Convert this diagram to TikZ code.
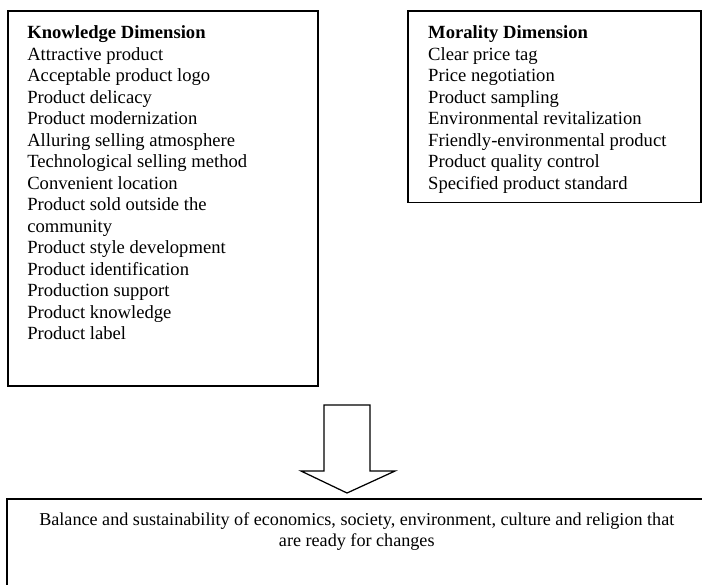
\documentclass[tikz,border=0pt]{standalone}
\usepackage{fontspec}
\setmainfont{Liberation Serif}
\usetikzlibrary{positioning}

\tikzset{
  frame/.style={draw, line width=1pt, inner sep=0pt, anchor=north west},
  listtext/.style={align=left, inner sep=0pt, font=\fontsize{12}{13.87}\selectfont},
}

\begin{document}
\begin{tikzpicture}[x=0.645pt, y=-0.645pt]
            \clip (0,0) rectangle (702,584);

            \node[frame, minimum width=200pt, minimum height=241.9pt] (knowbox) at (7,10) {};
            \node[frame, minimum width=189.3pt, minimum height=123.8pt] (moralbox) at (407,10) {};
            \node[frame, minimum width=451.5pt, minimum height=78.7pt] (resultbox) at (6,498) {};

            \node[listtext, anchor=north west, below right=9.9pt and 12.9pt of knowbox.north west] (knowlist) {%
              \textbf{Knowledge Dimension}\\
              Attractive product\\
              Acceptable product logo\\
              Product delicacy\\
              Product modernization\\
              Alluring selling atmosphere\\
              Technological selling method\\
              Convenient location\\
              Product sold outside the\\
              community\\
              Product style development\\
              Product identification\\
              Production support\\
              Product knowledge\\
              Product label};

            \node[listtext, anchor=north west, below right=9.9pt and 13.5pt of moralbox.north west] (morallist) {%
              \textbf{Morality Dimension}\\
              Clear price tag\\
              Price negotiation\\
              Product sampling\\
              Environmental revitalization\\
              Friendly-environmental product\\
              Product quality control\\
              Specified product standard};

            \node[listtext, align=center, anchor=north, below=9.2pt of resultbox.north,
                  font=\fontsize{11.7}{13.87}\selectfont] (resulttext) {%
              Balance and sustainability of economics, society, environment, culture and religion that\\
              are ready for changes};

            % block arrow down to the result
            \draw[line width=0.8pt, fill=white] (324,405) -- (370,405) -- (370,471) -- (395,471)
                -- (347,493) -- (301,471) -- (324,471) -- cycle;

          \end{tikzpicture}
\end{document}
